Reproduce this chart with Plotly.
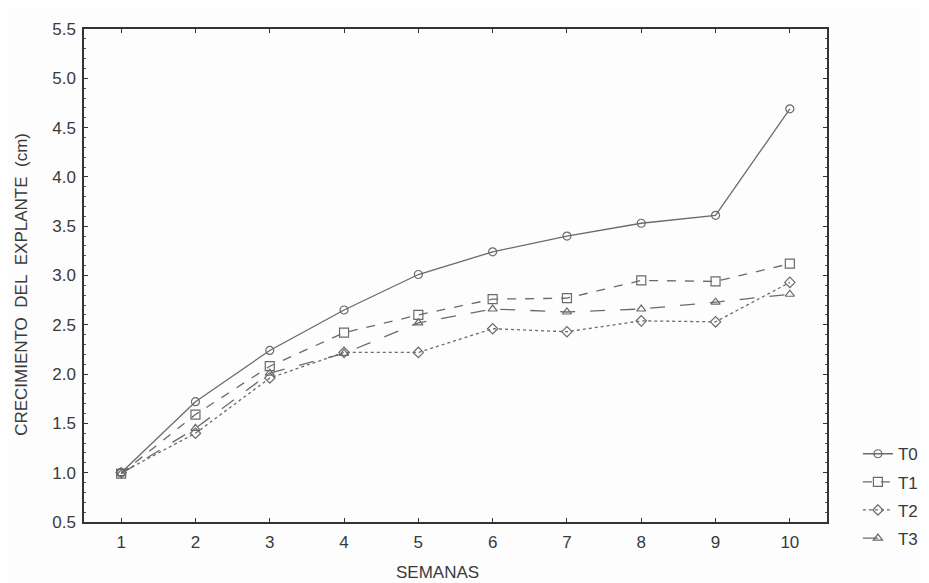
import plotly.graph_objects as go

semanas = [1, 2, 3, 4, 5, 6, 7, 8, 9, 10]
t0 = [1.00, 1.72, 2.24, 2.65, 3.01, 3.24, 3.40, 3.53, 3.61, 4.69]
t1 = [0.99, 1.59, 2.08, 2.42, 2.60, 2.76, 2.77, 2.95, 2.94, 3.12]
t2 = [1.00, 1.40, 1.96, 2.22, 2.22, 2.46, 2.43, 2.54, 2.53, 2.93]
t3 = [0.99, 1.45, 2.01, 2.21, 2.52, 2.66, 2.63, 2.66, 2.73, 2.81]

series = [
    ("T0", t0, "solid", "circle-open", 8),
    ("T1", t1, "dash", "square-open", 9),
    ("T2", t2, "dot", "diamond-open", 8),
    ("T3", t3, "longdash", "triangle-up-open", 8),
]

fig = go.Figure()
for name, vals, dash, sym, size in series:
    fig.add_trace(go.Scatter(
        x=semanas, y=vals, name=name, mode="lines+markers", legendgroup=name,
        line=dict(color="#6a6a6a", width=1.3, dash=dash),
        marker=dict(symbol=sym, size=size, color="#6a6a6a", line=dict(width=1.2, color="#6a6a6a")),
    ))

font = "Liberation Sans, Arial, sans-serif"
fig.update_layout(
    width=929, height=583,
    margin=dict(l=76, r=110, t=14, b=69),
    paper_bgcolor="#fdfdfd", plot_bgcolor="#fdfdfd",
    font=dict(family=font, size=17, color="#3a3a3a"),
    showlegend=True,
    legend=dict(x=(860 - 84) / 745, y=0.174, xanchor="left", yanchor="top",
                font=dict(size=17), tracegroupgap=3, itemwidth=30,
                bgcolor="rgba(0,0,0,0)"),
    xaxis=dict(range=[0.5, 10.5], tickmode="array", tickvals=semanas,
               ticktext=[str(s) for s in semanas],
               showline=True, linecolor="#333", linewidth=1.5, mirror="ticks",
               ticks="inside", ticklen=4, tickcolor="#333",
               showgrid=False, zeroline=False, ticklabelstandoff=4),
    yaxis=dict(range=[0.5, 5.5], dtick=0.5, tick0=0.5, tickformat=".1f",
               showline=True, linecolor="#333", linewidth=1.5, mirror="ticks",
               ticks="inside", ticklen=4, tickcolor="#333",
               minor=dict(dtick=0.1, ticks="inside", ticklen=2, tickcolor="#555"),
               showgrid=False, zeroline=False, ticklabelstandoff=3),
    annotations=[
        dict(text="SEMANAS", x=(437 - 84) / 743, y=-(573 - 522) / 500,
             xref="paper", yref="paper", xanchor="center", yanchor="middle",
             showarrow=False, font=dict(size=17, family=font, color="#3a3a3a")),
        dict(text="CRECIMIENTO\u00a0 DEL\u00a0 EXPLANTE\u00a0\u00a0(cm)",
             x=(21.5 - 84) / 743, y=(522 - 281) / 500, textangle=-90,
             xref="paper", yref="paper", xanchor="center", yanchor="middle",
             showarrow=False, font=dict(size=17, family=font, color="#3a3a3a")),
    ],
)

fig.write_html("out.html")
